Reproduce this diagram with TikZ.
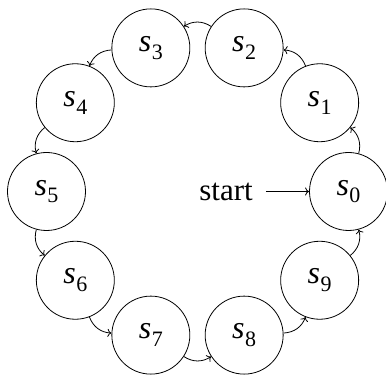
\documentclass[tikz,border=0pt]{standalone}
\usepackage{fontspec}
\setmainfont{Liberation Serif}
\usetikzlibrary{arrows.meta}
\newcommand{\stlabel}[1]{{\itshape s}\kern0.5pt\raisebox{-0.24em}{\fontsize{22}{26}\selectfont #1}}
\begin{document}
\begin{tikzpicture}[x=1pt,y=1pt,
  state/.style={circle,draw,line width=0.8pt,minimum size=78pt,inner sep=0pt,font=\fontsize{32}{38}\selectfont},
  trans/.style={-{To[length=4pt,width=8pt]},line width=0.8pt,bend right=33},
  lbl/.style={inner sep=0pt,font=\fontsize{31}{37}\selectfont}]
\useasboundingbox (-197.5,-185.5) rectangle (188.5,191.5);
\foreach \i in {0,...,9}
  \node[state] (s\i) at (\i*36:151) {\stlabel{\i}};
\foreach \i [evaluate=\i as \j using {int(mod(\i+1,10))}] in {0,...,9}
  \draw[trans] (s\i) to (s\j);
\node[lbl,anchor=base east] (st) at (55.5,-9.2) {start};
\coordinate (stA) at (68.5,0);
\draw[-{To[length=4pt,width=8pt]},line width=0.8pt] (stA) -- (s0);
\end{tikzpicture}
\end{document}
